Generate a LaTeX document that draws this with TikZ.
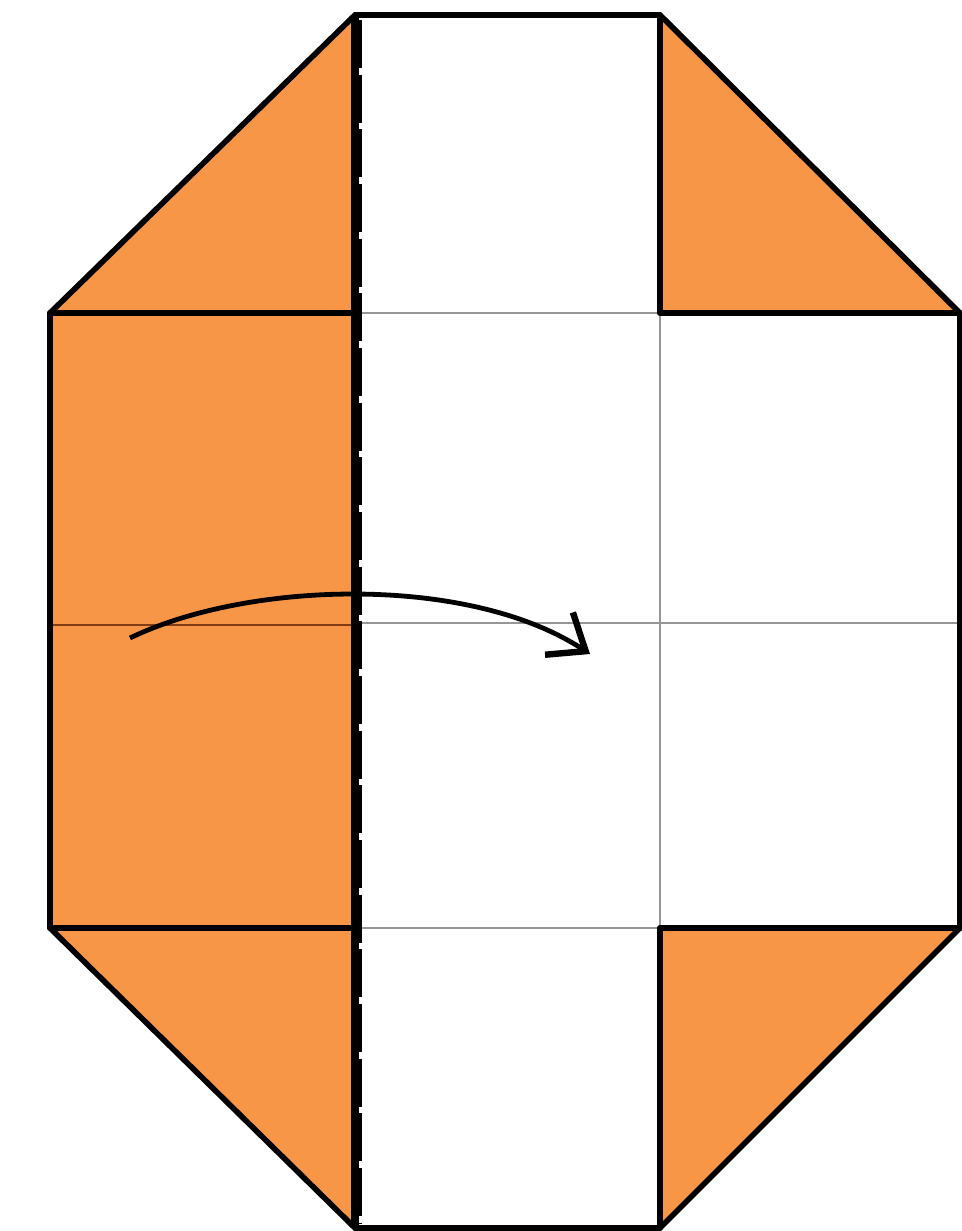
\documentclass[tikz,border=0pt]{standalone}
\usetikzlibrary{arrows.meta}
\definecolor{paperorange}{RGB}{248,150,72}
\definecolor{creasegray}{RGB}{150,150,150}
\definecolor{creasebrown}{RGB}{130,60,20}
\begin{document}
\begin{tikzpicture}[x=0.75pt,y=-0.75pt,
  edge/.style={line width=4.2pt,line join=miter,line cap=round},
  crease/.style={line width=1.2pt,creasegray},
  fill orange/.style={fill=paperorange}]
\useasboundingbox (0,0) rectangle (962,1231);
% key coordinates
\coordinate (A) at (355,15);
\coordinate (B) at (660,15);
\coordinate (C) at (960,313);
\coordinate (D) at (960,928);
\coordinate (E) at (660,1228);
\coordinate (F) at (355,1228);
\coordinate (G) at (50,928);
\coordinate (H) at (50,313);
% orange regions
\fill[fill orange] (H) -- (A) -- (355,313) -- cycle;
\fill[fill orange] (H) rectangle (355,928);
\fill[fill orange] (G) -- (355,928) -- (F) -- cycle;
\fill[fill orange] (B) -- (C) -- (660,313) -- cycle;
\fill[fill orange] (660,928) -- (D) -- (E) -- cycle;
% thin creases
\draw[crease] (355,313) -- (660,313);
\draw[crease] (355,623) -- (960,623);
\draw[crease] (355,928) -- (660,928);
\draw[crease] (660,313) -- (660,928);
\draw[line width=1.3pt,creasebrown] (50,625) -- (355,625);
% thick edges
\draw[edge] (H) -- (355,313);
\draw[edge] (660,313) -- (C);
\draw[edge] (G) -- (355,928);
\draw[edge] (660,928) -- (D);
\draw[edge] (B) -- (660,313);
\draw[edge] (660,928) -- (E);
\draw[edge] (A) -- (B) -- (C) -- (D) -- (E) -- (F) -- (G) -- (H) -- cycle;
% fold line: thick solid with dashed edge
\draw[line width=6pt] (355,15) -- (355,1228);
\draw[line width=2.6pt,dash pattern=on 36pt off 5pt] (360.5,20) -- (360.5,1224);
% arrow
\coordinate (s) at (130,638);
\coordinate (t) at (590,654);
\draw[line width=3.6pt,-{Straight Barb[length=24pt,width=38pt,line width=4.8pt]}]
  (s) .. controls (250,580) and (470,575) .. (t);
\end{tikzpicture}
\end{document}
